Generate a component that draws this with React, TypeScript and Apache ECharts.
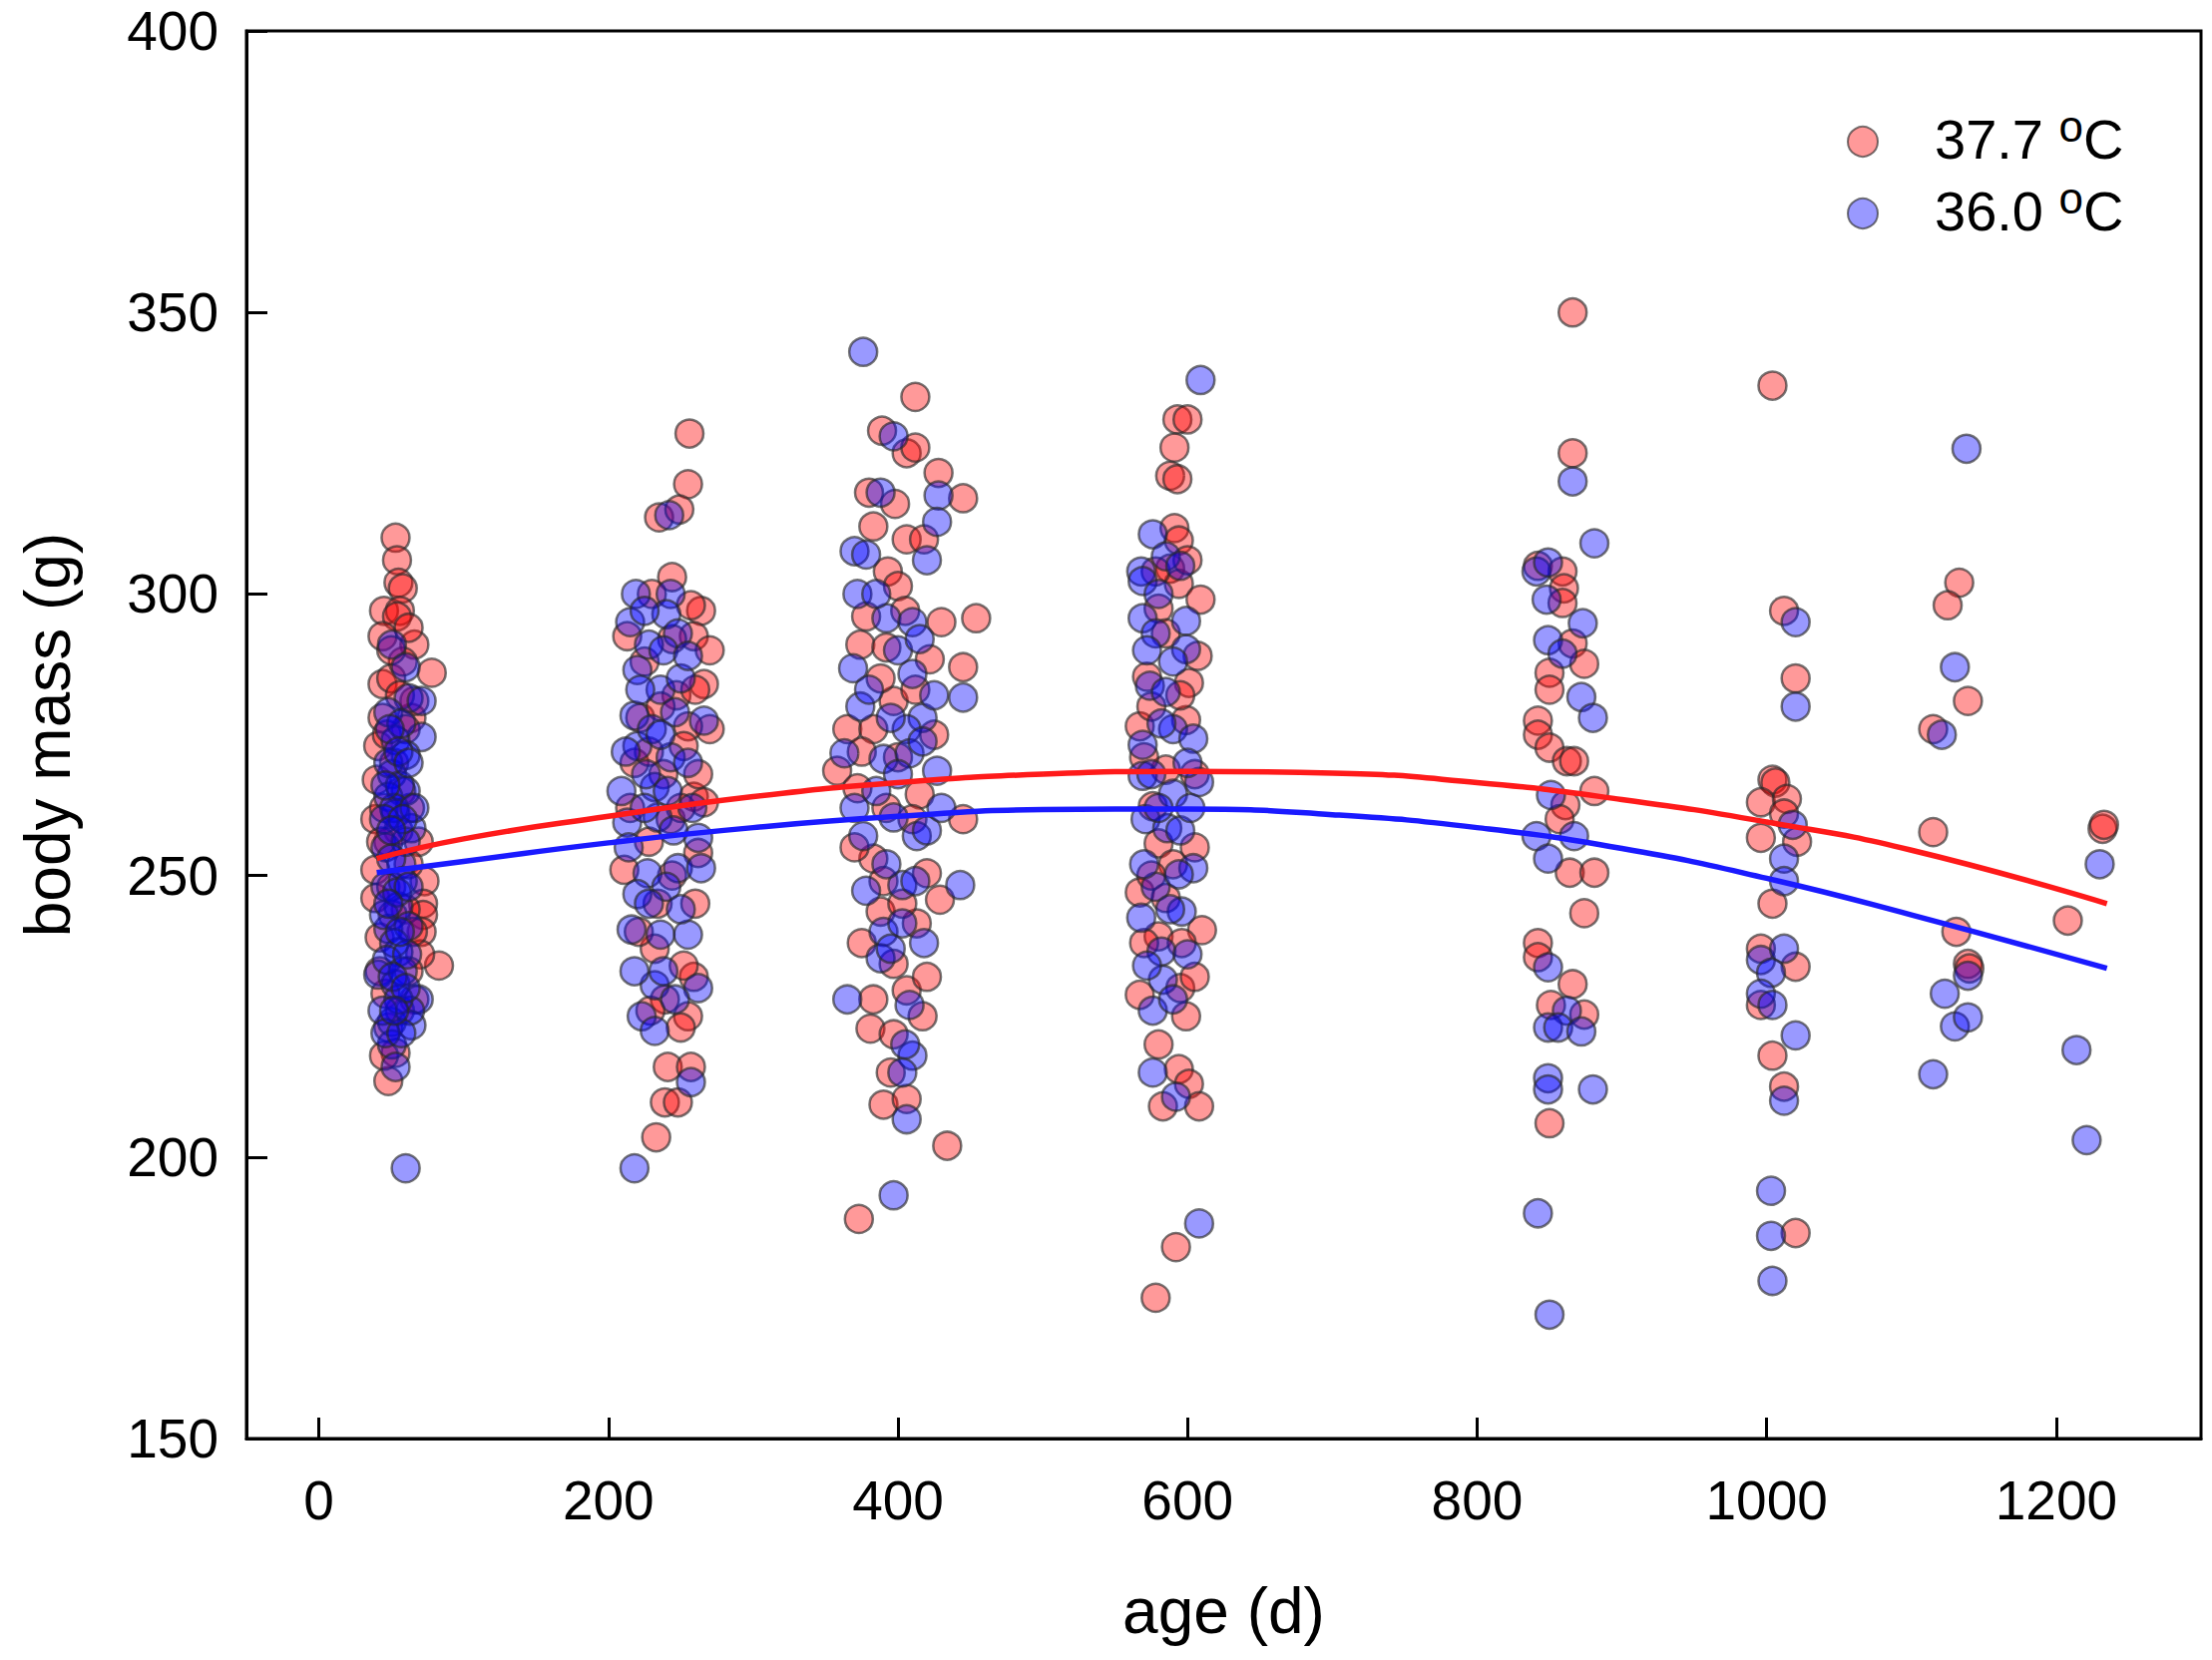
import React, { useEffect, useRef } from "react";
import * as echarts from "echarts";

const FONT = "'Liberation Sans', Arial, Helvetica, sans-serif";

// ---- tick labels ----
const X_TICKS = [0, 200, 400, 600, 800, 1000, 1200];
const SERIES_NAMES = ["37.7 °C", "36.0 °C"];

// ---- 37.7 °C (red) points: [age (d), body mass (g)] ----
const red50 = [
  [53, 310], [54, 306], [55, 302], [58, 301], [45, 297], [56, 297], [54, 296], [44, 292.5], [66, 291], [78, 286],
  [44, 284], [50, 285], [64, 278], [41, 273], [40, 267], [39, 260], [69, 256], [39, 251], [73, 249], [39, 246],
  [72, 245], [72, 243], [71, 240], [83, 234], [48, 223], [53, 218.5], [48, 213.5], [45, 262], [55, 258], [50, 248],
  [62, 252], [42, 239], [60, 244], [46, 229], [57, 265], [52, 270], [60, 276], [66, 281], [44, 278], [66, 228],
  [70, 236], [58, 288], [48, 256], [50, 290], [62, 294], [47, 275], [56, 282], [63, 262], [43, 256], [65, 240],
  [51, 243], [42, 233], [62, 233], [56, 226], [45, 218],
];
const red230 = [
  [256, 328.5], [255, 319.5], [235, 313.6], [249, 315], [244, 303], [264, 297], [257, 298], [213, 292.5], [259, 292.5], [266, 284],
  [270, 276], [255, 276.5], [218, 270], [252, 273], [259, 264], [266, 263], [243, 260], [211, 251], [234, 245], [232, 237],
  [259, 232], [239, 228], [255, 225], [250, 223], [241, 216], [257, 216], [239, 209.7], [248, 209.7], [233, 203.5], [225, 288],
  [238, 268], [228, 256], [260, 245], [215, 262], [247, 282], [222, 278], [262, 254], [230, 300], [244, 292], [236, 280],
  [260, 283], [228, 272], [250, 262], [244, 250], [221, 240], [252, 234], [229, 226], [262, 268], [270, 290],
];
const red400 = [
  [412, 335], [389, 329], [406, 325], [412, 326], [428, 321.5], [445, 317], [380, 318], [398, 316], [383, 312], [406, 309.7],
  [418, 309.7], [393, 304], [400, 301.4], [454, 295.7], [374, 291], [392, 290.5], [422, 288.4], [445, 287], [397, 281], [365, 276],
  [383, 276], [358, 268.6], [372, 265.5], [415, 264.4], [445, 260], [383, 253], [420, 250.4], [390, 249], [429, 245.7], [388, 243.6],
  [413, 241.5], [397, 234.3], [383, 228], [406, 229.6], [417, 225], [381, 222.8], [397, 221.8], [390, 209.3], [406, 210.3], [434, 202],
  [373, 189], [405, 297], [378, 296], [430, 295], [388, 285], [412, 283], [375, 272], [400, 271], [425, 275], [410, 260],
  [392, 262], [370, 255], [403, 245], [375, 238], [420, 232], [395, 215],
];
const red590 = [
  [593, 331], [600, 331], [591, 326], [588, 321], [593, 320.4], [591, 311.7], [594, 309.5], [588, 304.5], [594, 301.8], [609, 299],
  [607, 289], [580, 297.4], [572, 285.3], [601, 284.2], [567, 276.5], [599, 277.6], [585, 268.8], [576, 262.3], [580, 255.7], [567, 247],
  [610, 240.3], [580, 239.2], [596, 238], [567, 228.8], [599, 225], [594, 215.6], [601, 213], [583, 209], [608, 209], [592, 184],
  [578, 175], [600, 306], [578, 304], [585, 293], [595, 282], [575, 280], [605, 268], [570, 271], [590, 252], [575, 250],
  [605, 255], [585, 246], [595, 230], [570, 238], [605, 232], [580, 220],
];
const red860 = [
  [866, 350], [866, 325], [842, 305], [859, 304], [860, 301], [859, 298.4], [866, 291.2], [874, 287.6], [850, 286], [850, 283],
  [842, 277.5], [842, 275], [850, 272.7], [862, 270.3], [867, 270.3], [881, 265], [861, 262.5], [857, 260], [864, 250.5], [881, 250.5],
  [874, 243.3], [842, 238], [842, 235.5], [866, 230.7], [851, 227], [874, 225.3], [850, 206],
];
const red1010 = [
  [1004, 337], [1012, 297], [1020, 285], [1004, 267], [1006, 266.5], [996, 263], [1014, 263.6], [1012, 261], [996, 256.7], [1021, 256],
  [1004, 245], [996, 237], [1020, 233.8], [996, 227], [1004, 218], [1012, 212.5], [1020, 186.5],
];
const red1130 = [[1133, 302], [1125, 298], [1139, 281], [1115, 276], [1115, 257.7], [1131, 240], [1139, 234.3], [1140, 233.5]];
const red1225 = [[1232, 258.3], [1233, 259], [1208, 242]];

// ---- 36.0 °C (blue) points ----
const blue50 = [
  [50.5, 291], [60, 287], [62, 281.5], [71, 281], [48, 279], [71, 274.6], [53, 274], [60, 271.4], [50.5, 268], [60, 265],
  [48, 264], [53, 261], [64, 258.4], [46, 255], [57, 252], [46, 248], [55, 244.5], [48, 240.5], [55, 236.4], [41, 232.4],
  [53, 230.7], [69, 228], [50.5, 224], [64, 223.4], [50.5, 220], [53, 216], [60, 198], [48, 270], [56, 266], [52, 262],
  [60, 256], [50, 253], [58, 249], [45, 243], [62, 241], [52, 238], [47, 235], [58, 233], [63, 226], [55, 228],
  [44, 226], [57, 277], [45, 260], [66, 262], [54, 247], [61, 236], [49, 276], [55, 272], [46, 266], [58, 260],
  [50, 258], [62, 248], [48, 245], [56, 240], [51, 232], [60, 230], [46, 222], [57, 222], [52, 226], [62, 270],
];
const blue230 = [
  [242, 314], [219, 300], [243, 300], [240, 296.4], [228, 291], [248, 293], [220, 286.5], [236, 283], [218, 278.4], [266, 277.5],
  [220, 273], [243, 271], [209, 265], [232, 265.7], [213, 259.4], [234, 260.3], [262, 256.7], [227, 250.4], [248, 251.3], [264, 251.3],
  [220, 246.7], [216, 240.4], [236, 239.5], [255, 239.5], [232, 230.5], [223, 225], [232, 222.4], [257, 213.3], [218, 198], [230, 276],
  [245, 258], [225, 262], [255, 270], [240, 248], [218, 233], [262, 230], [250, 285], [226, 268], [215, 295], [225, 297],
  [238, 290], [255, 289], [222, 283], [246, 279], [212, 272], [236, 275], [258, 262], [214, 255], [241, 265], [228, 245],
  [250, 244], [238, 233], [246, 228],
];
const blue400 = [
  [376, 343], [397, 328], [428, 317.5], [388, 318], [427, 312.8], [370, 307.6], [378, 307], [420, 306], [372, 300], [392, 295.7],
  [410, 295], [369, 286.8], [445, 281.6], [410, 285.8], [374, 280], [417, 278], [406, 276], [363, 271.7], [390, 270.7], [408, 271.7],
  [417, 273.8], [427, 268.6], [397, 260.3], [376, 257], [413, 257], [420, 258], [443, 248.3], [378, 247.3], [403, 248.3], [390, 240],
  [403, 241.5], [388, 235.3], [365, 228], [408, 227], [410, 218], [403, 215], [406, 206.7], [397, 193.2], [385, 300], [400, 290],
  [415, 292], [380, 283], [395, 278], [425, 282], [385, 265], [400, 268], [430, 262], [392, 252], [412, 249], [370, 262],
  [395, 237], [418, 238], [405, 220],
];
const blue590 = [
  [609, 338], [576, 310.6], [585, 306.7], [568, 304], [569, 302.3], [569, 295.7], [578, 293], [599, 295.2], [599, 290.2], [574, 283.7],
  [585, 282.6], [569, 273.2], [590, 276], [604, 274.3], [569, 267.7], [608, 266.6], [590, 264.5], [571, 260], [586, 258.4], [604, 251.3],
  [578, 248], [594, 250.2], [596, 243.6], [568, 242.5], [582, 236.5], [583, 231.5], [576, 226], [576, 215], [592, 210.7], [608, 188.2],
  [580, 300], [595, 305], [572, 290], [590, 288], [582, 277], [600, 270], [575, 268], [595, 258], [580, 262], [602, 262],
  [570, 252], [588, 244], [600, 236], [572, 234], [590, 228],
];
const blue860 = [
  [866, 320], [881, 309], [841, 304], [849, 305.6], [848, 299], [873, 294.8], [849, 291.8], [859, 289.4], [872, 281.7], [880, 278],
  [851, 264.3], [841, 257], [867, 257], [849, 253], [849, 233.7], [862, 226], [849, 223], [856, 223], [872, 222.3], [849, 214],
  [849, 212], [880, 212], [842, 190], [850, 172],
];
const blue1010 = [
  [1020, 295], [1020, 280], [1018, 259], [1012, 253], [1012, 249], [996, 235], [1012, 237], [1003, 232.7], [996, 229], [1004, 227],
  [1020, 221.6], [1012, 210], [1003, 194], [1003, 186], [1004, 178],
];
const blue1130 = [[1138, 325.8], [1130, 287], [1121, 275], [1139, 232.2], [1123, 229], [1130, 223.2], [1139, 224.8], [1115, 214.7]];
const blue1225 = [[1230, 252], [1214, 219], [1221, 203]];

// ---- fitted curves ----
const redFit = [
  [40, 253], [100, 256.5], [200, 260.5], [300, 264], [400, 266.5], [500, 268], [600, 268.5],
  [700, 268.2], [800, 266.5], [900, 263.5], [1000, 259.5], [1100, 254.5], [1235, 245],
];
const blueFit = [
  [40, 250.5], [100, 252.5], [200, 255.8], [300, 258.5], [400, 260.5], [500, 261.7], [600, 261.8],
  [700, 260.8], [800, 258.5], [900, 254.8], [1000, 249.5], [1100, 243], [1235, 233.5],
];

const redPoints = [...red50, ...red230, ...red400, ...red590, ...red860, ...red1010, ...red1130, ...red1225];
const bluePoints = [...blue50, ...blue230, ...blue400, ...blue590, ...blue860, ...blue1010, ...blue1130, ...blue1225];

export default function App() {
  const ref = useRef<HTMLDivElement>(null);
  useEffect(() => {
    document.body.style.margin = "0";
    if (!ref.current) return;
    const chart = echarts.init(ref.current, null, { renderer: "svg" });
    const axisLineStyle = { color: "#000", width: 3 };
    const labelStyle = { fontSize: 55, color: "#000", fontFamily: FONT };
    const markBorder = "rgba(40,40,40,0.8)";
    chart.setOption({
      animation: false,
      backgroundColor: "#ffffff",
      textStyle: { fontFamily: FONT },
      grid: {
        left: 247, right: 11, top: 31, bottom: 222,
        show: true, borderColor: "#000", borderWidth: 3, backgroundColor: "transparent",
      },
      legend: {
        data: SERIES_NAMES,
        orient: "vertical",
        left: 1846,
        top: 99,
        itemWidth: 30,
        itemHeight: 30,
        itemGap: 9,
        icon: "circle",
        selectedMode: false,
        formatter: (n: string) => {
          const num = n.replace(" °C", "");
          return "{t|" + num + " }{sup|o}{t|C}";
        },
        textStyle: {
          fontSize: 56,
          color: "#000",
          fontFamily: FONT,
          padding: [0, 0, 13, 52],
          rich: {
            t: { fontSize: 56, lineHeight: 63, color: "#000", fontFamily: FONT, verticalAlign: "bottom" },
            sup: { fontSize: 44, lineHeight: 44, color: "#000", fontFamily: FONT, verticalAlign: "top" },
          },
        },
      },
      xAxis: {
        type: "value",
        min: -50,
        max: 1300,
        name: "age (d)",
        nameLocation: "middle",
        nameGap: 141,
        nameTextStyle: { fontSize: 64, color: "#000", fontFamily: FONT },
        axisLine: { show: true, onZero: false, lineStyle: axisLineStyle },
        axisTick: { show: true, inside: true, length: 21, lineStyle: axisLineStyle, customValues: X_TICKS },
        axisLabel: { ...labelStyle, margin: 34, customValues: X_TICKS, formatter: (v: number) => String(v) },
        splitLine: { show: false },
      },
      yAxis: {
        type: "value",
        min: 150,
        max: 400,
        interval: 50,
        name: "body mass (g)",
        nameLocation: "middle",
        nameGap: 167,
        nameTextStyle: { fontSize: 64, color: "#000", fontFamily: FONT },
        axisLine: { show: true, onZero: false, lineStyle: axisLineStyle },
        axisTick: { show: true, inside: true, length: 21, lineStyle: axisLineStyle },
        axisLabel: { ...labelStyle, margin: 28, showMinLabel: true, showMaxLabel: true, formatter: (v: number) => String(v) },
        splitLine: { show: false },
      },
      series: [
        {
          name: SERIES_NAMES[0],
          type: "scatter",
          data: redPoints,
          symbol: "circle",
          symbolSize: 28,
          itemStyle: { color: "rgba(255,0,0,0.5)", borderColor: markBorder, borderWidth: 2.5 },
        },
        {
          name: SERIES_NAMES[1],
          type: "scatter",
          data: bluePoints,
          symbol: "circle",
          symbolSize: 28,
          itemStyle: { color: "rgba(0,0,255,0.5)", borderColor: markBorder, borderWidth: 2.5 },
        },
        {
          name: "fit37",
          type: "line",
          data: redFit,
          smooth: true,
          showSymbol: false,
          lineStyle: { color: "#ff1a1a", width: 5.5 },
          z: 5,
        },
        {
          name: "fit36",
          type: "line",
          data: blueFit,
          smooth: true,
          showSymbol: false,
          lineStyle: { color: "#1a1aff", width: 5.5 },
          z: 5,
        },
      ],
    });
    return () => chart.dispose();
  }, []);
  return <div ref={ref} style={{ width: 2217, height: 1664 }} />;
}
